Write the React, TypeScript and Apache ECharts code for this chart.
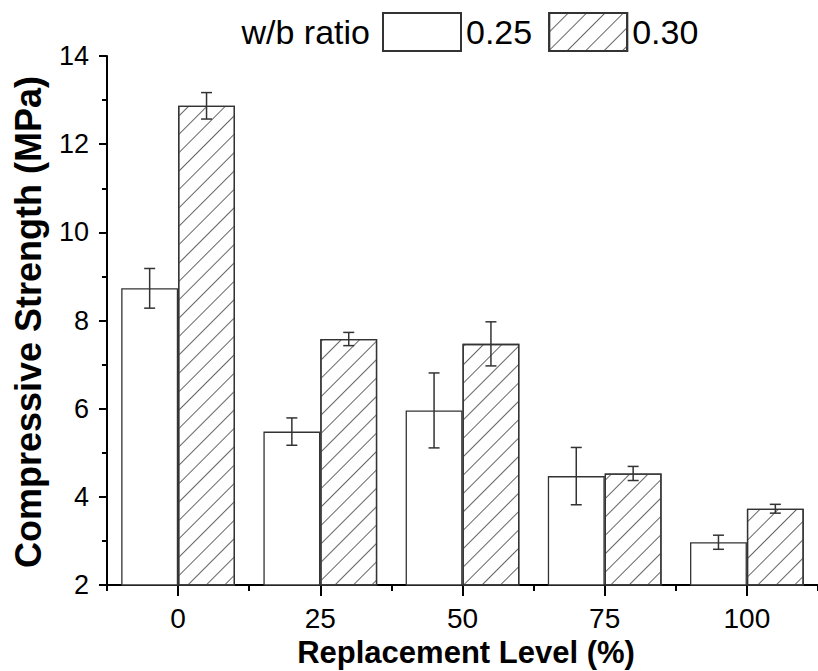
import React, { useEffect, useRef } from 'react';
import * as echarts from 'echarts';

const categories = ['0', '25', '50', '75', '100'];
const seriesNames = ['0.25', '0.30'];
const strength025 = [8.73, 5.48, 5.96, 4.47, 2.97];
const error025 = [0.45, 0.31, 0.85, 0.65, 0.16];
const strength030 = [12.87, 7.58, 7.47, 4.53, 3.73];
const error030 = [0.3, 0.15, 0.5, 0.16, 0.1];
const legendTitle = 'w/b ratio';
const xTitle = 'Replacement Level (%)';
const yTitle = 'Compressive Strength (MPa)';

const FONT = 'Arial, "Liberation Sans", sans-serif';

export default function App() {
  const ref = useRef<HTMLDivElement>(null);

  useEffect(() => {
    const chart = echarts.init(ref.current!, null, { renderer: 'svg' });

    const hatch = {
      symbol: 'rect',
      symbolSize: 1,
      dashArrayX: [1, 0],
      dashArrayY: [1, 12],
      rotation: -Math.PI / 4,
      color: '#666',
      backgroundColor: '#fff',
    };

    const errSeries = (name: string, vals: number[], errs: number[], side: number) => ({
      name,
      type: 'custom',
      xAxisIndex: 0,
      yAxisIndex: 0,
      silent: true,
      z: 10,
      data: vals.map((v, i) => [i, v - errs[i], v + errs[i]]),
      encode: { x: 0, y: [1, 2] },
      renderItem: (params: any, api: any) => {
        const band = api.size([1, 0])[0];
        const off = side * band * 0.2;
        const lo = api.coord([api.value(0), api.value(1)]);
        const hi = api.coord([api.value(0), api.value(2)]);
        const x = lo[0] + off;
        const w = 5.5;
        const style = { stroke: '#333', lineWidth: 1.5 };
        return {
          type: 'group',
          children: [
            { type: 'line', shape: { x1: x, y1: lo[1], x2: x, y2: hi[1] }, style },
            { type: 'line', shape: { x1: x - w, y1: lo[1], x2: x + w, y2: lo[1] }, style },
            { type: 'line', shape: { x1: x - w, y1: hi[1], x2: x + w, y2: hi[1] }, style },
          ],
        };
      },
    });

    chart.setOption({
      animation: false,
      backgroundColor: '#fff',
      textStyle: { fontFamily: FONT },
      grid: { left: 107, top: 56, width: 719, height: 529, containLabel: false },
      legend: {
        data: seriesNames,
        left: 377,
        top: 7,
        itemWidth: 78,
        itemHeight: 38,
        itemGap: 16,
        icon: 'rect',
        textStyle: { fontSize: 34, color: '#000', fontFamily: FONT },
        selectedMode: false,
      },
      xAxis: [
        {
          type: 'category',
          data: categories,
          position: 'bottom',
          axisLine: { show: true, lineStyle: { color: '#000', width: 2 } },
          axisTick: { show: true, alignWithLabel: true, length: 11, lineStyle: { color: '#000', width: 2 } },
          axisLabel: { fontSize: 28, color: '#000', margin: 19, fontFamily: FONT },
          splitLine: { show: false },
        },
        {
          type: 'category',
          data: categories,
          position: 'bottom',
          axisLine: { show: false },
          axisTick: { show: true, alignWithLabel: false, length: 6, lineStyle: { color: '#000', width: 2 } },
          axisLabel: { show: false },
          splitLine: { show: false },
        },
      ],
      yAxis: {
        type: 'value',
        min: 2,
        max: 14,
        interval: 2,
        axisLine: { show: true, lineStyle: { color: '#000', width: 2 } },
        axisTick: { show: true, length: 8, lineStyle: { color: '#000', width: 2 } },
        minorTick: { show: true, splitNumber: 2, length: 5, lineStyle: { color: '#000', width: 2 } },
        axisLabel: { fontSize: 27, color: '#000', margin: 18, fontFamily: FONT },
        splitLine: { show: false },
        minorSplitLine: { show: false },
      },
      series: [
        {
          name: seriesNames[0],
          type: 'bar',
          data: strength025,
          barGap: '0%',
          barCategoryGap: '20%',
          itemStyle: { color: '#fff', borderColor: '#333', borderWidth: 1.3 },
        },
        {
          name: seriesNames[1],
          type: 'bar',
          data: strength030,
          barGap: '0%',
          barCategoryGap: '20%',
          itemStyle: { color: '#fff', borderColor: '#333', borderWidth: 1.3, decal: hatch },
        },
        errSeries('err025', strength025, error025, -1),
        errSeries('err030', strength030, error030, 1),
      ],
      graphic: [
        {
          type: 'text',
          x: 370,
          y: 32,
          style: {
            text: legendTitle,
            fontSize: 34,
            fontFamily: FONT,
            fill: '#000',
            textAlign: 'right',
            textVerticalAlign: 'middle',
          },
        },
        {
          type: 'text',
          x: 466,
          y: 652,
          style: {
            text: xTitle,
            fontSize: 31,
            fontWeight: 'bold',
            fontFamily: FONT,
            fill: '#000',
            textAlign: 'center',
            textVerticalAlign: 'middle',
          },
        },
        {
          type: 'text',
          x: 28,
          y: 322,
          rotation: Math.PI / 2,
          style: {
            text: yTitle,
            fontSize: 36,
            fontWeight: 'bold',
            fontFamily: FONT,
            fill: '#000',
            textAlign: 'center',
            textVerticalAlign: 'middle',
          },
        },
      ],
    });

    return () => chart.dispose();
  }, []);

  return (
    <div
      ref={ref}
      style={{ position: 'fixed', left: 0, top: 0, width: 818, height: 671, background: '#fff' }}
    />
  );
}
